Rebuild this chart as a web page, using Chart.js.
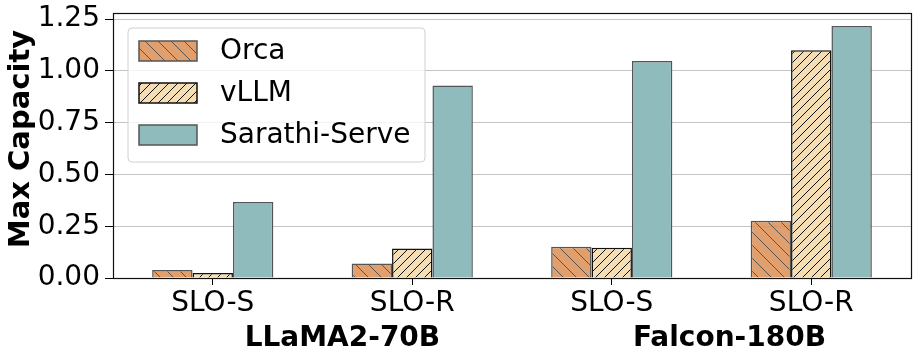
<!DOCTYPE html>
<html>
<head>
<meta charset="utf-8">
<script src="https://cdn.jsdelivr.net/npm/chart.js@4"></script>
<style>
  html, body { margin: 0; padding: 0; background: #fff; }
  #wrap { width: 920px; height: 361px; }
</style>
</head>
<body>
<div id="wrap"><canvas id="capacityChart" width="920" height="361"></canvas></div>
<script>
// chart values
const categories = ['SLO-S', 'SLO-R', 'SLO-S', 'SLO-R'];
const groupLabels = ['LLaMA2-70B', 'Falcon-180B'];
const seriesNames = ['Orca', 'vLLM', 'Sarathi-Serve'];
const orcaValues = [0.039, 0.07, 0.151, 0.277];
const vllmValues = [0.024, 0.143, 0.146, 1.10];
const sarathiValues = [0.367, 0.93, 1.048, 1.217];
const yTicks = [0, 0.25, 0.5, 0.75, 1.0, 1.25];

const FONT = 'DejaVu Sans';

// diagonal hatch pattern, '/' or '\'
const makeHatch = (fill, line, period, dir) => {
  const c = document.createElement('canvas');
  c.width = period;
  c.height = period;
  const g = c.getContext('2d');
  g.fillStyle = fill;
  g.fillRect(0, 0, period, period);
  g.strokeStyle = line;
  g.lineWidth = 1;
  g.beginPath();
  if (dir === '/') {
    g.moveTo(0, period); g.lineTo(period, 0);
    g.moveTo(-2, 2); g.lineTo(2, -2);
    g.moveTo(period - 2, period + 2); g.lineTo(period + 2, period - 2);
  } else {
    g.moveTo(0, 0); g.lineTo(period, period);
    g.moveTo(-2, period - 2); g.lineTo(2, period + 2);
    g.moveTo(period - 2, -2); g.lineTo(period + 2, 2);
  }
  g.stroke();
  return g.createPattern(c, 'repeat');
};

const orcaFill = makeHatch('rgba(222,146,90,0.88)', '#555555', 13, '\\');
const vllmFill = makeHatch('#f5deb3', '#111111', 9, '/');
const sarathiFill = '#8fbbbc';

// frame around the plot area (drawn over the bars, like axes spines)
const framePlugin = {
  id: 'frame',
  afterDatasetsDraw(chart) {
    const { ctx, chartArea: a } = chart;
    ctx.save();
    ctx.strokeStyle = '#111';
    ctx.lineWidth = 1.2;
    ctx.strokeRect(Math.round(a.left) + 0.5, Math.round(a.top) + 0.5,
      Math.round(a.right - a.left), Math.round(a.bottom - a.top));
    ctx.restore();
  },
};

// model names under the tick labels, y title
const textPlugin = {
  id: 'texts',
  afterDraw(chart) {
    const { ctx } = chart;
    const x = chart.scales.x;
    const x0 = x.getPixelForValue(0);
    const step = x.getPixelForValue(1) - x0;
    const where = [0.65, 2.59];
    ctx.save();
    ctx.font = 'bold 28px "' + FONT + '"';
    ctx.fillStyle = '#000';
    ctx.textAlign = 'center';
    ctx.textBaseline = 'middle';
    groupLabels.forEach((txt, i) => {
      ctx.fillText(txt, x0 + where[i] * step, 339);
    });
    ctx.translate(21, 139);
    ctx.rotate(-Math.PI / 2);
    ctx.font = 'bold 29px "' + FONT + '"';
    ctx.fillText('Max Capacity', 0, 0);
    ctx.restore();
  },
};

// matplotlib-like legend box in the upper left of the plot
const legendPlugin = {
  id: 'boxLegend',
  afterDraw(chart) {
    const { ctx, chartArea: a } = chart;
    const bx = a.left + 15, by = a.top + 15, bw = 297, bh = 134, r = 4;
    ctx.save();
    ctx.beginPath();
    ctx.moveTo(bx + r, by);
    ctx.arcTo(bx + bw, by, bx + bw, by + bh, r);
    ctx.arcTo(bx + bw, by + bh, bx, by + bh, r);
    ctx.arcTo(bx, by + bh, bx, by, r);
    ctx.arcTo(bx, by, bx + bw, by, r);
    ctx.closePath();
    ctx.fillStyle = 'rgba(255,255,255,0.8)';
    ctx.fill();
    ctx.strokeStyle = '#d0d0d0';
    ctx.lineWidth = 1;
    ctx.stroke();

    ctx.font = '28px "' + FONT + '"';
    ctx.textBaseline = 'middle';
    chart.data.datasets.forEach((ds, i) => {
      const sy = by + 13 + i * 42;
      ctx.fillStyle = ds.backgroundColor;
      ctx.fillRect(bx + 11, sy, 58, 20);
      ctx.strokeStyle = ds.borderColor;
      ctx.lineWidth = 1.5;
      ctx.strokeRect(bx + 11, sy, 58, 20);
      ctx.fillStyle = '#000';
      ctx.fillText(ds.label, bx + 92, sy + 11);
    });
    ctx.restore();
  },
};

const ctx = document.getElementById('capacityChart').getContext('2d');
new Chart(ctx, {
  type: 'bar',
  data: {
    labels: categories,
    datasets: [
      {
        label: seriesNames[0],
        data: orcaValues,
        backgroundColor: orcaFill,
        borderColor: '#555555',
        borderWidth: 1.5,
      },
      {
        label: seriesNames[1],
        data: vllmValues,
        backgroundColor: vllmFill,
        borderColor: '#111111',
        borderWidth: 1.5,
      },
      {
        label: seriesNames[2],
        data: sarathiValues,
        backgroundColor: sarathiFill,
        borderColor: '#555555',
        borderWidth: 1.5,
      },
    ],
  },
  options: {
    responsive: false,
    animation: false,
    devicePixelRatio: 1,
    layout: { padding: { left: 0, right: 9, top: 13, bottom: 0 } },
    datasets: {
      bar: { categoryPercentage: 0.6075, barPercentage: 1.0 },
    },
    scales: {
      x: {
        offset: true,
        grid: {
          offset: false,
          drawOnChartArea: false,
          drawTicks: true,
          tickLength: 7,
          tickColor: '#000',
        },
        border: { display: false },
        ticks: {
          color: '#000',
          font: { family: FONT, size: 28 },
          padding: 2,
          maxRotation: 0,
          autoSkip: false,
        },
        afterFit: (scale) => {
          scale.height = 83;
          scale.paddingLeft = 0;
          scale.paddingRight = 0;
        },
      },
      y: {
        min: 0,
        max: 1.28,
        afterBuildTicks: (scale) => {
          scale.ticks = yTicks.map(v => ({ value: v }));
        },
        grid: {
          color: '#c4c4c4',
          lineWidth: 1,
          tickLength: 8,
          tickColor: '#000',
        },
        border: { display: false },
        ticks: {
          color: '#000',
          font: { family: FONT, size: 28 },
          padding: 5,
          callback: (v) => Number(v).toFixed(2),
        },
        afterFit: (scale) => {
          scale.width = 113;
          scale.paddingTop = 0;
          scale.paddingBottom = 0;
        },
      },
    },
    plugins: {
      legend: { display: false },
      tooltip: { enabled: false },
    },
  },
  plugins: [framePlugin, textPlugin, legendPlugin],
});
</script>
</body>
</html>
